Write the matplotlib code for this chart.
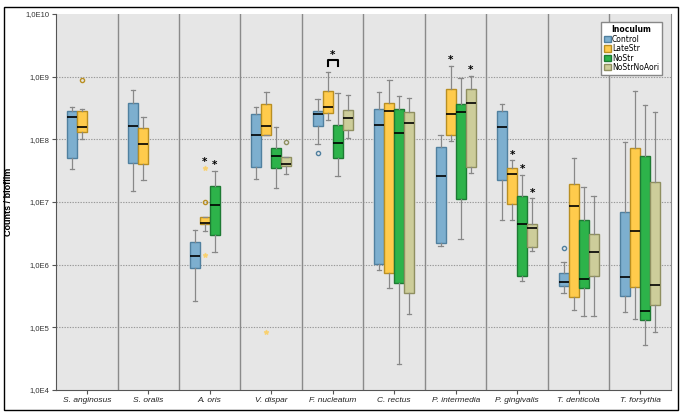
import numpy as np
import matplotlib
matplotlib.use("Agg")
import matplotlib.pyplot as plt
from matplotlib.patches import Rectangle, Patch

# Taxa on the x axis
taxa = ["S. anginosus", "S. oralis", "A. oris", "V. dispar", "F. nucleatum",
        "C. rectus", "P. intermedia", "P. gingivalis", "T. denticola", "T. forsythia"]
groups = ["Control", "LateStr", "NoStr", "NoStrNoAori"]

# Five-number summaries, log10(counts):
# [whisker low, Q1, median, Q3, whisker high]; None = not measured
control = [
    [7.52, 7.71, 8.35, 8.46, 8.51],
    [7.18, 7.62, 8.21, 8.58, 8.78],
    [5.42, 5.94, 6.14, 6.36, 6.555],
    [7.36, 7.555, 8.065, 8.40, 8.51],
    [7.92, 8.22, 8.40, 8.45, 8.64],
    [5.92, 6.01, 8.23, 8.48, 8.75],
    [6.29, 6.34, 7.41, 7.87, 8.065],
    [6.72, 7.35, 8.19, 8.45, 8.56],
    [5.545, 5.66, 5.72, 5.875, 6.05],
    [5.24, 5.50, 5.81, 6.84, 7.95],
]
late_str = [
    [8.01, 8.12, 8.19, 8.45, 8.48],
    [7.35, 7.60, 7.92, 8.18, 8.36],
    [6.54, 6.65, 6.67, 6.76, 6.76],
    [8.07, 8.07, 8.22, 8.56, 8.75],
    [8.31, 8.415, 8.51, 8.77, 9.075],
    [5.625, 5.865, 8.45, 8.585, 8.94],
    [7.97, 8.065, 8.41, 8.80, 9.17],
    [6.72, 6.965, 7.44, 7.54, 7.665],
    [5.27, 5.49, 6.93, 7.29, 7.71],
    [5.13, 5.65, 6.53, 7.86, 8.77],
]
no_str = [
    None,
    None,
    [6.20, 6.47, 6.95, 7.25, 7.50],
    [7.23, 7.54, 7.74, 7.86, 8.19],
    [7.42, 7.70, 7.94, 8.23, 8.735],
    [4.42, 5.715, 8.10, 8.48, 8.69],
    [6.41, 7.05, 8.43, 8.56, 8.975],
    [5.74, 5.82, 6.65, 7.09, 7.43],
    [5.18, 5.625, 5.77, 6.71, 7.235],
    [4.72, 5.11, 5.26, 7.73, 8.54],
]
no_str_no_aori = [
    None,
    None,
    None,
    [7.44, 7.58, 7.60, 7.72, 7.72],
    [8.02, 8.145, 8.34, 8.47, 8.70],
    [5.21, 5.545, 8.26, 8.43, 8.665],
    [7.46, 7.555, 8.58, 8.80, 9.01],
    [6.22, 6.28, 6.58, 6.65, 7.06],
    [5.18, 5.82, 6.21, 6.49, 7.09],
    [4.93, 5.355, 5.67, 7.32, 8.43],
]
all_stats = [control, late_str, no_str, no_str_no_aori]

# outliers (taxon index, group index, log10 value)
circle_outliers = [(0, 1, 8.95), (2, 1, 7.0), (3, 3, 7.96), (4, 0, 7.78), (8, 0, 6.26)]
star_outliers = [(2, 1, 7.55), (2, 1, 6.16), (3, 1, 4.93)]

# significance asterisks (taxon index, group index)
signif = [(2, 1), (2, 2), (6, 1), (6, 3), (7, 1), (7, 2), (7, 3)]
# bracket between two groups within a taxon
signif_bracket = [(4, 1, 2)]

face_colors = ["#7dafcf", "#ffcb4c", "#2db34a", "#cdcd9a"]
edge_colors = ["#50809f", "#b98f22", "#1d7a33", "#8f8f60"]
offsets = [-0.244, -0.081, 0.081, 0.244]
box_w = 0.162

fig = plt.figure(figsize=(6.83, 4.15), dpi=100)
ax = fig.add_axes([0.082, 0.0602, 0.9004, 0.9061])
ax.set_facecolor("#e6e6e6")

for g, series in enumerate(all_stats):
    stats, pos = [], []
    for i, s in enumerate(series):
        if s is None:
            continue
        lo, q1, med, q3, hi = [10 ** v for v in s]
        stats.append(dict(whislo=lo, q1=q1, med=med, q3=q3, whishi=hi, fliers=[]))
        pos.append(i + offsets[g])
    ax.bxp(stats, positions=pos, widths=box_w, patch_artist=True, showfliers=False,
           boxprops=dict(facecolor=face_colors[g], edgecolor=edge_colors[g], linewidth=1),
           medianprops=dict(color="black", linewidth=1.2),
           whiskerprops=dict(color="#888888", linewidth=0.9),
           capprops=dict(color="#888888", linewidth=0.9),
           capwidths=box_w * 0.45, zorder=3)

for i, g, v in circle_outliers:
    ax.plot(i + offsets[g], 10 ** v, "o", ms=3, mfc="none", mec=edge_colors[g], mew=1, zorder=4)
for i, g, v in star_outliers:
    ax.plot(i + offsets[g], 10 ** v, "*", ms=3.5, color=face_colors[g], alpha=0.6, zorder=4)

def top_of(i, g):
    vals = [all_stats[g][i][4]]
    vals += [v for (ii, gg, v) in circle_outliers + star_outliers if ii == i and gg == g]
    return 10 ** max(vals)

for i, g in signif:
    ax.annotate("*", (i + offsets[g], top_of(i, g)), xytext=(0, 0.5), textcoords="offset points",
                ha="center", va="bottom", fontsize=7.5, fontweight="bold", zorder=5)

for i, g1, g2 in signif_bracket:
    x1, x2 = i + offsets[g1], i + offsets[g2]
    y0 = 10 ** 9.17
    y1 = 10 ** 9.27
    ax.plot([x1, x1, x2, x2], [y0, y1, y1, y0], color="black", lw=1.5, zorder=5)
    ax.annotate("*", ((x1 + x2) / 2, y1), xytext=(0, 0), textcoords="offset points",
                ha="center", va="bottom", fontsize=7.5, fontweight="bold")

ax.set_yscale("log")
ax.set_ylim(1e4, 1e10)
ax.set_xlim(-0.5, len(taxa) - 0.5)
decades = [4, 5, 6, 7, 8, 9, 10]
ax.set_yticks([10 ** d for d in decades])
ax.set_yticklabels(["1,0E%d" % d for d in decades], fontsize=5.5, color="#333333",
                   family="Liberation Sans")
ax.yaxis.set_minor_locator(matplotlib.ticker.NullLocator())
ax.set_xticks(range(len(taxa)))
ax.set_xticklabels(taxa, fontsize=6, style="italic", family="Liberation Sans", color="#222222")
ax.tick_params(axis="both", length=3, width=0.8, color="#555555", pad=2)

for d in decades[1:-1]:
    ax.axhline(10 ** d, color="#999999", lw=0.8, ls=(0, (1.2, 1.2)), zorder=1)
for k in range(1, len(taxa)):
    ax.axvline(k - 0.5, color="#8a8a8a", lw=1, zorder=1)

ax.spines["top"].set_visible(False)
ax.spines["right"].set_color("#8a8a8a")
ax.spines["left"].set_color("#555555")
ax.spines["bottom"].set_color("#555555")

ax.set_ylabel("Counts / biofilm", fontsize=6.5, fontweight="bold", labelpad=9,
              family="Liberation Sans")

handles = [Patch(facecolor=face_colors[g], edgecolor=edge_colors[g], label=groups[g])
           for g in range(4)]
leg = ax.legend(handles=handles, title="Inoculum", loc="upper right",
                bbox_to_anchor=(0.992, 0.988), fontsize=5.5, title_fontsize=5.5,
                handlelength=0.9, handleheight=0.9, handletextpad=0.2,
                labelspacing=0.05, borderpad=0.4, fancybox=False,
                framealpha=1, edgecolor="#888888")
leg.get_title().set_fontweight("bold")

fig.patches.append(Rectangle((0.006, 0.012), 0.987, 0.972, transform=fig.transFigure,
                             fill=False, ec="black", lw=1))

fig.savefig("out.png", dpi=100)
